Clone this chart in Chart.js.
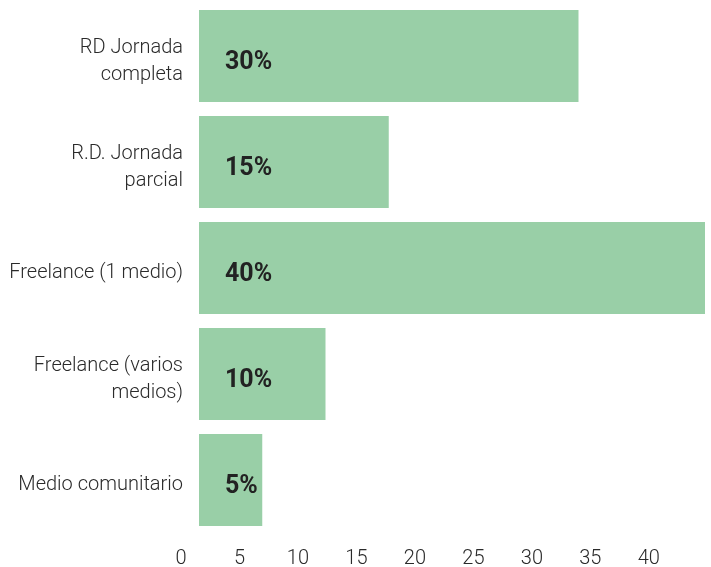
<!DOCTYPE html>
<html>
<head>
<meta charset="utf-8">
<script src="https://cdn.jsdelivr.net/npm/chart.js@4"></script>
<style>
    html, body { margin: 0; padding: 0; background: #fff; }
    #wrap { width: 711px; height: 567px; }
</style>
</head>
<body>
<div id="wrap"><canvas id="barChart" width="711" height="567"></canvas></div>
<script>
const categories = [
    ['RD Jornada', 'completa'],
    ['R.D. Jornada', 'parcial'],
    'Freelance (1 medio)',
    ['Freelance (varios', 'medios)'],
    'Medio comunitario'
];
const values = [30, 15, 40, 10, 5];
const valueLabels = ['30%', '15%', '40%', '10%', '5%'];
const xTicks = [0, 5, 10, 15, 20, 25, 30, 35, 40];

const barColor = '#99cfa7';
const textFont = 'Roboto, "Open Sans", sans-serif';

// draws the bold percentage inside each bar
const valueLabelPlugin = {
    id: 'valueLabels',
    afterDatasetsDraw(chart) {
        const ctx = chart.ctx;
        const meta = chart.getDatasetMeta(0);
        ctx.save();
        ctx.font = 'bold 25px ' + textFont;
        ctx.fillStyle = '#222';
        ctx.textAlign = 'left';
        ctx.textBaseline = 'middle';
        meta.data.forEach((bar, i) => {
            ctx.fillText(valueLabels[i], bar.base + 26, bar.y + 7);
        });
        ctx.restore();
    }
};

const ctx = document.getElementById('barChart').getContext('2d');
new Chart(ctx, {
    type: 'bar',
    data: {
        labels: categories,
        datasets: [{
            data: values,
            backgroundColor: barColor,
            borderWidth: 0,
            barPercentage: 0.87,
            categoryPercentage: 1
        }]
    },
    options: {
        indexAxis: 'y',
        responsive: false,
        animation: false,
        layout: { padding: { top: 3, right: 6, left: 0, bottom: 0 } },
        plugins: {
            legend: { display: false },
            tooltip: { enabled: false }
        },
        scales: {
            x: {
                display: false,
                min: 0,
                max: 40
            },
            // axis that only carries the tick labels along the bottom
            x2: {
                type: 'linear',
                position: 'bottom',
                min: 1.54,
                max: 44.8,
                grid: { display: false, drawTicks: false },
                border: { display: false },
                afterBuildTicks(scale) {
                    scale.ticks = xTicks.map(v => ({ value: v }));
                },
                afterFit(scale) {
                    scale.height = 34;
                    scale.paddingLeft = 0;
                    scale.paddingRight = 0;
                },
                ticks: {
                    autoSkip: false,
                    maxRotation: 0,
                    padding: 14,
                    color: '#2a2a2a',
                    font: { family: textFont, size: 20, weight: '300' }
                }
            },
            y: {
                grid: { display: false, drawTicks: false },
                border: { display: false },
                afterFit(scale) {
                    scale.width = 199;
                    scale.paddingTop = 0;
                    scale.paddingBottom = 0;
                },
                ticks: {
                    padding: 16,
                    labelOffset: 5,
                    color: '#2a2a2a',
                    font: { family: textFont, size: 20, weight: '300', lineHeight: 1.35 }
                }
            }
        }
    },
    plugins: [valueLabelPlugin]
});
</script>
</body>
</html>
